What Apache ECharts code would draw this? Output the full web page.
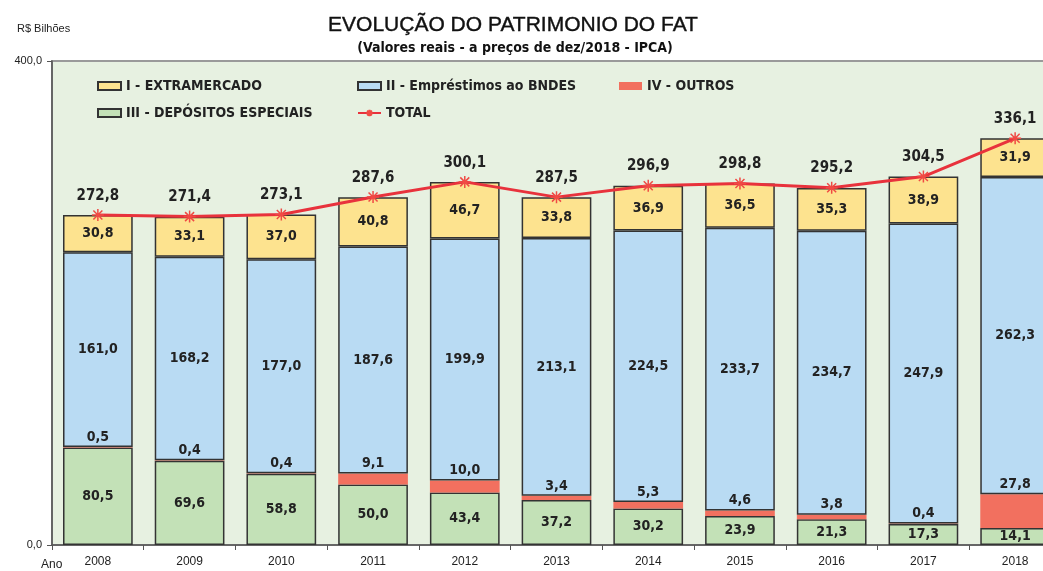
<!DOCTYPE html>
<html>
<head>
<meta charset="utf-8">
<script src="https://cdn.jsdelivr.net/npm/echarts@6/dist/echarts.min.js"></script>
<style>html,body{margin:0;padding:0;background:#fff;}#c{width:1043px;height:571px;}</style>
</head>
<body>
<div id="c"></div>
<script>
var years = ['2008','2009','2010','2011','2012','2013','2014','2015','2016','2017','2018'];
var depositos = [80.5, 69.6, 58.8, 50.0, 43.4, 37.2, 30.2, 23.9, 21.3, 17.3, 14.1];
var outros = [0.5, 0.4, 0.4, 9.1, 10.0, 3.4, 5.3, 4.6, 3.8, 0.4, 27.8];
var bndes = [161.0, 168.2, 177.0, 187.6, 199.9, 213.1, 224.5, 233.7, 234.7, 247.9, 262.3];
var extramercado = [30.8, 33.1, 37.0, 40.8, 46.7, 33.8, 36.9, 36.5, 35.3, 38.9, 31.9];
var total = [272.8, 271.4, 273.1, 287.6, 300.1, 287.5, 296.9, 298.8, 295.2, 304.5, 336.1];
var yTicks = [0, 400];

var NARROW = "'Liberation Sans Narrow', 'DejaVu Sans Condensed', 'Arial Narrow', sans-serif";
function fmt(v){ return v.toFixed(1).replace('.', ','); }
var lbl = {show:true, position:'inside', color:'#222', fontFamily:NARROW, fontWeight:'bold', fontSize:14,
  formatter:function(p){return fmt(p.value);}};
var border = {borderColor:'#333', borderWidth:1.5};
var legendText = {color:'#222', fontFamily:NARROW, fontWeight:'bold', fontSize:14};

var chart = echarts.init(document.getElementById('c'), null, {renderer:'canvas'});
chart.setOption({
  animation:false,
  backgroundColor:'#ffffff',
  title:[
    {text:'EVOLUÇÃO DO PATRIMONIO DO FAT', left:508, top:10, textAlign:'center',
     textStyle:{fontFamily:'Liberation Sans, Arial, sans-serif', fontWeight:'normal', fontSize:21, color:'#111', textBorderColor:'#111', textBorderWidth:0.4}},
    {text:'(Valores reais - a preços de dez/2018 - IPCA)', left:510, top:36, textAlign:'center',
     textStyle:{fontFamily:NARROW, fontWeight:'bold', fontSize:14, color:'#111'}},
    {text:'R$ Bilhões', left:12, top:18, textStyle:{fontFamily:'Liberation Sans, Arial, sans-serif', fontWeight:'normal', fontSize:11, color:'#222'}}
  ],
  graphic:[{type:'text', left:41, top:559, style:{text:'Ano', font:'12px "Liberation Sans", Arial, sans-serif', fill:'#222'}}],
  legend:[
    {left:92, top:74, orient:'vertical', itemGap:13, itemWidth:23, itemHeight:8, textStyle:legendText,
     data:[{name:'I - EXTRAMERCADO', icon:'rect'},{name:'III - DEPÓSITOS ESPECIAIS', icon:'rect'}]},
    {left:352, top:74, orient:'vertical', itemGap:13, itemWidth:23, itemHeight:8, textStyle:legendText,
     data:[{name:'II - Empréstimos ao BNDES', icon:'rect'},'TOTAL']},
    {left:614, top:74, orient:'vertical', itemWidth:23, itemHeight:8, textStyle:legendText,
     data:[{name:'IV - OUTROS', icon:'rect'}]}
  ],
  grid:{left:52, top:61, width:1009, height:484, outerBoundsMode:'none', containLabel:false,
    show:true, backgroundColor:'#e7f1e1', borderColor:'#9a9a9a', borderWidth:2},
  xAxis:{type:'category', data:years,
    axisLine:{lineStyle:{color:'#555', width:1.5}},
    axisTick:{show:true, length:5, inside:false, lineStyle:{color:'#555'}},
    axisLabel:{color:'#222', fontSize:12, margin:11, fontFamily:'Liberation Sans, Arial, sans-serif'}},
  yAxis:{type:'value', min:yTicks[0], max:yTicks[1], interval:400,
    axisLine:{show:true, lineStyle:{color:'#555', width:1.5}},
    axisTick:{show:true, length:5, lineStyle:{color:'#555'}},
    splitLine:{show:false},
    axisLabel:{color:'#222', fontSize:11, margin:10, fontFamily:'Liberation Sans, Arial, sans-serif',
      formatter:function(v){return fmt(v);}}},
  series:[
    {name:'III - DEPÓSITOS ESPECIAIS', type:'bar', stack:'a', barWidth:'76%', data:depositos,
     itemStyle:Object.assign({color:'#c3e1b7'}, border), label:lbl},
    {name:'IV - OUTROS', type:'bar', stack:'a', data:outros,
     itemStyle:{color:'#f2705f', borderWidth:0},
     label:Object.assign({}, lbl, {position:'top', distance:3})},
    {name:'II - Empréstimos ao BNDES', type:'bar', stack:'a', data:bndes,
     itemStyle:Object.assign({color:'#b9dbf3'}, border), label:lbl},
    {name:'I - EXTRAMERCADO', type:'bar', stack:'a', data:extramercado,
     itemStyle:Object.assign({color:'#fde38f'}, border), label:lbl},
    {name:'TOTAL', type:'line', data:total, z:5,
     symbol:'path://M0,-6L0,6M-6,0L6,0M-4.5,-4.5L4.5,4.5M-4.5,4.5L4.5,-4.5', symbolSize:12,
     lineStyle:{color:'#e8323c', width:3},
     itemStyle:{color:'#e8323c', borderColor:'#f04a44', borderWidth:1.5},
     label:{show:true, position:'top', distance:5, color:'#222', fontFamily:NARROW, fontWeight:'bold', fontSize:15,
       formatter:function(p){return fmt(p.value);}}}
  ]
});
</script>
</body>
</html>
